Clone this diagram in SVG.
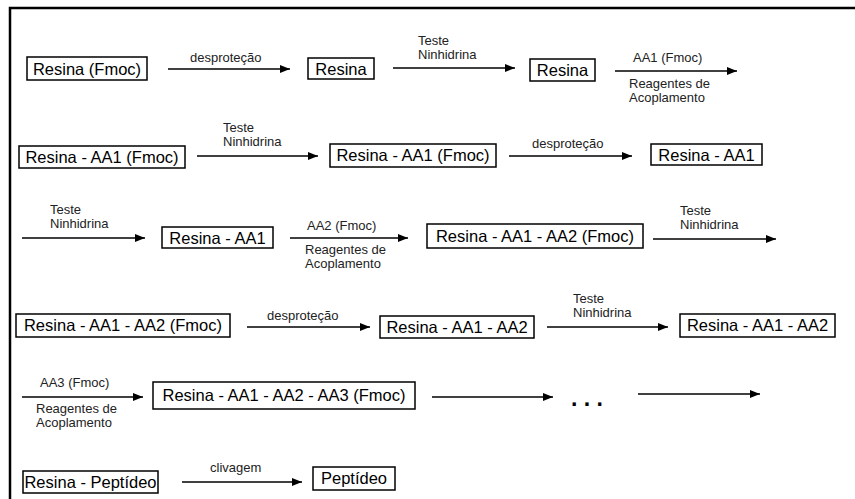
<svg xmlns="http://www.w3.org/2000/svg" width="855" height="499" viewBox="0 0 855 499">
<defs>
<marker id="ah" viewBox="0 0 10 8" refX="10" refY="4" markerWidth="10" markerHeight="8" markerUnits="userSpaceOnUse" orient="auto">
<path d="M0,0 L10,4 L0,8 Z" fill="#000"/>
</marker>
</defs>
<style>
.box{fill:#fff;stroke:#000;stroke-width:1.5}
.bt{font-family:"Liberation Sans",Arial,sans-serif;font-size:16.5px;fill:#000;text-anchor:middle}
.lb{font-family:"Liberation Sans",Arial,sans-serif;font-size:13px;fill:#222}
.ar{stroke:#000;stroke-width:1.5;fill:none;marker-end:url(#ah)}
.frame{stroke:#000;stroke-width:2.5;fill:none}
</style>
<rect width="855" height="499" fill="#fff"/>
<path class="frame" d="M10,499 L10,8 L855,8"/>

<g id="n1"><rect class="box" x="27" y="57" width="120" height="23"/><text class="bt" x="87" y="75">Resina (Fmoc)</text></g>
<g id="n2"><rect class="box" x="308" y="58" width="66" height="21"/><text class="bt" x="341" y="75">Resina</text></g>
<g id="n3"><rect class="box" x="530" y="59" width="65" height="22"/><text class="bt" x="562.5" y="76">Resina</text></g>

<g id="n4"><rect class="box" x="19" y="146" width="166" height="22"/><text class="bt" x="102" y="163">Resina - AA1 (Fmoc)</text></g>
<g id="n5"><rect class="box" x="330" y="144" width="166" height="23"/><text class="bt" x="413" y="161">Resina - AA1 (Fmoc)</text></g>
<g id="n6"><rect class="box" x="651" y="144" width="111" height="21"/><text class="bt" x="706.5" y="161">Resina - AA1</text></g>

<g id="n7"><rect class="box" x="162" y="227" width="111" height="21"/><text class="bt" x="217.5" y="244">Resina - AA1</text></g>
<g id="n8"><rect class="box" x="427" y="224" width="216" height="24"/><text class="bt" x="535" y="242">Resina - AA1 - AA2 (Fmoc)</text></g>

<g id="n9"><rect class="box" x="16" y="314" width="214" height="23"/><text class="bt" x="123" y="331">Resina - AA1 - AA2 (Fmoc)</text></g>
<g id="n10"><rect class="box" x="380" y="316" width="154" height="22"/><text class="bt" x="457" y="333">Resina - AA1 - AA2</text></g>
<g id="n11"><rect class="box" x="680" y="314" width="155" height="23"/><text class="bt" x="757.5" y="331">Resina - AA1 - AA2</text></g>

<g id="n12"><rect class="box" x="153" y="382" width="262" height="27"/><text class="bt" x="284" y="401">Resina - AA1 - AA2 - AA3 (Fmoc)</text></g>
<g id="n13"><text x="571" y="406" style="font-family:'Liberation Sans',Arial,sans-serif;font-size:23px;font-weight:bold;fill:#000">. . .</text></g>

<g id="n14"><rect class="box" x="23" y="471" width="135" height="22"/><text class="bt" x="90.5" y="488">Resina - Peptídeo</text></g>
<g id="n15"><rect class="box" x="313" y="467" width="82" height="23"/><text class="bt" x="354" y="484">Peptídeo</text></g>

<g id="connectors">
<line class="ar" x1="168" y1="69" x2="290" y2="69"/>
<text class="lb" x="190" y="62">desproteção</text>
<line class="ar" x1="393" y1="68" x2="515" y2="68"/>
<text class="lb" x="418" y="45">Teste</text><text class="lb" x="418" y="59">Ninhidrina</text>
<line class="ar" x1="615" y1="71" x2="737" y2="71"/>
<text class="lb" x="633" y="62">AA1 (Fmoc)</text>
<text class="lb" x="629" y="88">Reagentes de</text><text class="lb" x="629" y="102">Acoplamento</text>

<line class="ar" x1="197" y1="156" x2="318" y2="156"/>
<text class="lb" x="223" y="132">Teste</text><text class="lb" x="223" y="146">Ninhidrina</text>
<line class="ar" x1="509" y1="156" x2="632" y2="156"/>
<text class="lb" x="532" y="148">desproteção</text>

<line class="ar" x1="22" y1="238" x2="145" y2="238"/>
<text class="lb" x="50" y="214">Teste</text><text class="lb" x="50" y="228">Ninhidrina</text>
<line class="ar" x1="290" y1="238" x2="408" y2="238"/>
<text class="lb" x="307" y="230">AA2 (Fmoc)</text>
<text class="lb" x="305" y="254">Reagentes de</text><text class="lb" x="305" y="268">Acoplamento</text>
<line class="ar" x1="653" y1="239" x2="776" y2="239"/>
<text class="lb" x="680" y="215">Teste</text><text class="lb" x="680" y="229">Ninhidrina</text>

<line class="ar" x1="247" y1="327" x2="370" y2="327"/>
<text class="lb" x="267" y="320">desproteção</text>
<line class="ar" x1="547" y1="327" x2="668" y2="327"/>
<text class="lb" x="573" y="303">Teste</text><text class="lb" x="573" y="317">Ninhidrina</text>

<line class="ar" x1="22" y1="397" x2="143" y2="397"/>
<text class="lb" x="40" y="387">AA3 (Fmoc)</text>
<text class="lb" x="36" y="413">Reagentes de</text><text class="lb" x="36" y="427">Acoplamento</text>
<line class="ar" x1="432" y1="397" x2="553" y2="397"/>
<line class="ar" x1="638" y1="394" x2="760" y2="394"/>

<line class="ar" x1="182" y1="482" x2="302" y2="482"/>
<text class="lb" x="210" y="472">clivagem</text>
</g>
</svg>
